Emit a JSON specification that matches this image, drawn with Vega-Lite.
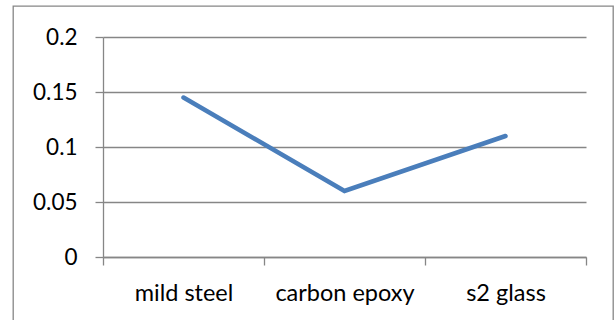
{
  "$schema": "https://vega.github.io/schema/vega-lite/v6.json",
  "autosize": {"type": "none"},
  "padding": {"left": 13, "top": 6, "right": 3, "bottom": 0},
  "width": 600,
  "height": 318,
  "background": "white",
  "config": {
    "view": {"stroke": "#868686", "strokeWidth": 1.3},
    "font": "Lato"
  },
  "data": {
    "values": [
      {"material": "mild steel", "value": 0.145},
      {"material": "carbon epoxy", "value": 0.06},
      {"material": "s2 glass", "value": 0.11}
    ]
  },
  "mark": {
    "type": "line",
    "color": "#4a7ebb",
    "strokeWidth": 4.5,
    "strokeCap": "round",
    "strokeJoin": "miter"
  },
  "encoding": {
    "x": {
      "field": "material",
      "type": "nominal",
      "sort": null,
      "scale": {"type": "band", "range": [90, 573], "paddingInner": 0, "paddingOuter": 0},
      "axis": {
        "title": null,
        "labelAngle": 0,
        "tickBand": "extent",
        "offset": -67,
        "grid": false,
        "domainColor": "#868686",
        "domainWidth": 1.3,
        "tickColor": "#868686",
        "tickWidth": 1.3,
        "tickSize": 8,
        "labelPadding": 16,
        "labelFont": "Lato",
        "labelFontSize": 23.5,
        "labelColor": "#000000"
      }
    },
    "y": {
      "field": "value",
      "type": "quantitative",
      "scale": {"domain": [0, 0.2], "range": [251, 31], "nice": false},
      "axis": {
        "title": null,
        "values": [0, 0.05, 0.1, 0.15, 0.2],
        "format": "~g",
        "offset": -90,
        "grid": true,
        "gridColor": "#868686",
        "gridWidth": 1.3,
        "domainColor": "#868686",
        "domainWidth": 1.3,
        "tickColor": "#868686",
        "tickWidth": 1.3,
        "tickSize": 8,
        "labelPadding": 18,
        "labelFont": "Lato",
        "labelFontSize": 22.5,
        "labelColor": "#000000"
      }
    }
  }
}
